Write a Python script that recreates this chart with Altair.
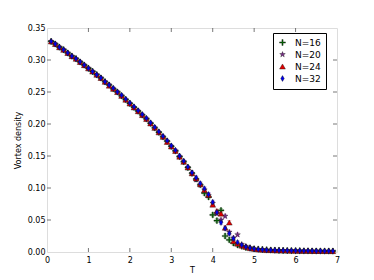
import altair as alt
import pandas as pd

T = [0.1, 0.2, 0.3, 0.4, 0.5, 0.6, 0.7, 0.8, 0.9, 1.0,
     1.1, 1.2, 1.3, 1.4, 1.5, 1.6, 1.7, 1.8, 1.9, 2.0,
     2.1, 2.2, 2.3, 2.4, 2.5, 2.6, 2.7, 2.8, 2.9, 3.0,
     3.1, 3.2, 3.3, 3.4, 3.5, 3.6, 3.7, 3.8, 3.9, 4.0,
     4.1, 4.2, 4.3, 4.4, 4.5, 4.6, 4.7, 4.8, 4.9, 5.0,
     5.1, 5.2, 5.3, 5.4, 5.5, 5.6, 5.7, 5.8, 5.9, 6.0,
     6.1, 6.2, 6.3, 6.4, 6.5, 6.6, 6.7, 6.8, 6.9]

N32 = [0.329, 0.325, 0.320, 0.316, 0.311, 0.306, 0.302, 0.297, 0.292, 0.287,
       0.282, 0.277, 0.272, 0.266, 0.261, 0.256, 0.250, 0.245, 0.239, 0.233,
       0.227, 0.221, 0.215, 0.209, 0.202, 0.195, 0.188, 0.181, 0.174, 0.166,
       0.159, 0.150, 0.142, 0.133, 0.124, 0.116, 0.107, 0.099, 0.090, 0.078,
       0.062, 0.046, 0.037, 0.029, 0.021, 0.015, 0.011, 0.008, 0.006, 0.005,
       0.004, 0.0035, 0.003, 0.003, 0.0027, 0.0025, 0.0024, 0.0022, 0.0021, 0.002,
       0.0019, 0.0018, 0.0018, 0.0017, 0.0016, 0.0016, 0.0015, 0.0015, 0.0014]

N24 = [0.329, 0.325, 0.320, 0.316, 0.311, 0.306, 0.302, 0.297, 0.292, 0.287,
       0.282, 0.277, 0.272, 0.266, 0.260, 0.255, 0.250, 0.244, 0.238, 0.232,
       0.226, 0.220, 0.214, 0.208, 0.201, 0.194, 0.187, 0.180, 0.172, 0.165,
       0.158, 0.149, 0.141, 0.132, 0.123, 0.115, 0.106, 0.097, 0.089, 0.074,
       0.064, 0.060, 0.038, 0.046, 0.017, 0.013, 0.010, 0.008, 0.006, 0.005,
       0.004, 0.0035, 0.003, 0.003, 0.0027, 0.0025, 0.0024, 0.0022, 0.0021, 0.002,
       0.0019, 0.0018, 0.0018, 0.0017, 0.0016, 0.0016, 0.0015, 0.0015, 0.0014]

N20 = [0.329, 0.325, 0.320, 0.316, 0.311, 0.306, 0.302, 0.297, 0.292, 0.287,
       0.282, 0.277, 0.272, 0.266, 0.261, 0.255, 0.250, 0.244, 0.238, 0.232,
       0.226, 0.220, 0.214, 0.208, 0.201, 0.194, 0.187, 0.180, 0.173, 0.165,
       0.158, 0.149, 0.141, 0.132, 0.123, 0.113, 0.105, 0.097, 0.088, 0.076,
       0.060, 0.050, 0.056, 0.031, 0.022, 0.027, 0.012, 0.009, 0.007, 0.005,
       0.0042, 0.0037, 0.0032, 0.003, 0.0028, 0.0026, 0.0024, 0.0022, 0.0021, 0.002,
       0.0019, 0.0018, 0.0018, 0.0017, 0.0016, 0.0016, 0.0015, 0.0015, 0.0014]

N16 = [0.329, 0.325, 0.320, 0.316, 0.311, 0.306, 0.302, 0.297, 0.292, 0.287,
       0.282, 0.277, 0.272, 0.266, 0.261, 0.255, 0.250, 0.244, 0.238, 0.232,
       0.226, 0.220, 0.214, 0.208, 0.201, 0.194, 0.187, 0.180, 0.173, 0.165,
       0.158, 0.149, 0.141, 0.132, 0.123, 0.114, 0.105, 0.092, 0.086, 0.058,
       0.049, 0.065, 0.025, 0.019, 0.014, 0.011, 0.009, 0.007, 0.006, 0.005,
       0.0045, 0.004, 0.0035, 0.003, 0.0028, 0.0026, 0.0024, 0.0022, 0.0021, 0.002,
       0.0019, 0.0018, 0.0018, 0.0017, 0.0016, 0.0016, 0.0015, 0.0015, 0.0014]

ERR = [0.002, 0.002, 0.002, 0.002, 0.002, 0.002, 0.002, 0.002, 0.002, 0.002,
       0.002, 0.002, 0.002, 0.002, 0.002, 0.002, 0.002, 0.002, 0.002, 0.002,
       0.002, 0.002, 0.002, 0.002, 0.002, 0.002, 0.002, 0.002, 0.002, 0.002,
       0.002, 0.002, 0.002, 0.002, 0.003, 0.003, 0.003, 0.003, 0.003, 0.003,
       0.003, 0.003, 0.003, 0.003, 0.003, 0.003, 0.002, 0.002, 0.001, 0.001,
       0.001, 0.001, 0.001, 0.001, 0.001, 0.001, 0.001, 0.001, 0.001, 0.001,
       0.001, 0.001, 0.001, 0.001, 0.001, 0.001, 0.001, 0.001, 0.001]

LABELS = ["N=16", "N=20", "N=24", "N=32"]
SERIES = [N16, N20, N24, N32]
X_TICKS = [0, 1, 2, 3, 4, 5, 6, 7]
Y_TICKS = [0.0, 0.05, 0.10, 0.15, 0.20, 0.25, 0.30, 0.35]

rows = []
for order, (lab, vals) in enumerate(zip(LABELS, SERIES)):
    for t, v, e in zip(T, vals, ERR):
        rows.append({"T": t, "v": v, "e": e, "N": lab, "o": order})
df = pd.DataFrame(rows)

W, H = 290, 224
STAR = "M0,-1L0.22,-0.31L0.95,-0.31L0.36,0.12L0.59,0.81L0,0.38L-0.59,0.81L-0.36,0.12L-0.95,-0.31L-0.22,-0.31Z"
THIN_DIAMOND = "M0,-1L0.6,0L0,1L-0.6,0Z"
PLUS = "M-1,-0.2H-0.2V-1H0.2V-0.2H1V0.2H0.2V1H-0.2V0.2H-1Z"

xs = alt.Scale(domain=[0, 7], nice=False)
ys = alt.Scale(domain=[0, 0.35], nice=False)

point_colors = ["#006a00", "#7a2a8a", "#e00000", "#0000e8"]
bar_colors = ["#7ccf7c", "#f07cf0", "#ff8080", "#8080ff"]

xaxis = alt.Axis(values=X_TICKS, ticks=False, domain=False, grid=False,
                 labelPadding=4, labelFontSize=8, titleFontSize=8,
                 titleFontWeight="normal", titlePadding=2, format="d",
                 labelColor="#000", titleColor="#000", labelOverlap=False, labelFlush=False,
                 labelFont="DejaVu Sans", titleFont="DejaVu Sans")
yaxis = alt.Axis(values=Y_TICKS, ticks=False, domain=False, grid=False,
                 labelPadding=2, labelFontSize=8, titleFontSize=8,
                 titleFontWeight="normal", titlePadding=5, format=".2f",
                 labelColor="#000", titleColor="#000", labelOverlap=False, labelFlush=False,
                 labelFont="DejaVu Sans", titleFont="DejaVu Sans")

base = alt.Chart(df)

bars = base.mark_errorbar(ticks={"size": 4}, thickness=0.8).encode(
    x=alt.X("T:Q", scale=xs, title="T", axis=xaxis),
    y=alt.Y("v:Q", scale=ys, title="Vortex density", axis=yaxis),
    yError="e:Q",
    color=alt.Color("N:N", scale=alt.Scale(domain=LABELS, range=bar_colors), legend=None),
)

points = base.mark_point(filled=True, size=34, stroke="#111", strokeWidth=0.4, opacity=1).encode(
    x=alt.X("T:Q", scale=xs, title="T", axis=xaxis),
    y=alt.Y("v:Q", scale=ys, title="Vortex density", axis=yaxis),
    color=alt.Color("N:N", scale=alt.Scale(domain=LABELS, range=point_colors),
                    legend=alt.Legend(title=None, orient="none", legendX=226, legendY=5,
                                      strokeColor="#000", fillColor="white", padding=5,
                                      labelFontSize=9, labelFont="DejaVu Sans",
                                      symbolSize=34, rowPadding=2, labelOffset=8,
                                      symbolStrokeColor="#111", symbolStrokeWidth=0.4)),
    shape=alt.Shape("N:N", scale=alt.Scale(domain=LABELS, range=[PLUS, STAR, "triangle-up", THIN_DIAMOND])),
    order=alt.Order("o:Q"),
)

xt = pd.DataFrame({"t": X_TICKS[1:-1]})
yt = pd.DataFrame({"t": Y_TICKS[1:-1]})
tick_col = "#555"
bt = alt.Chart(xt).mark_rule(color=tick_col, strokeWidth=0.8).encode(
    x=alt.X("t:Q", scale=xs, axis=xaxis, title="T"), y=alt.value(H), y2=alt.value(H - 4))
tt = alt.Chart(xt).mark_rule(color=tick_col, strokeWidth=0.8).encode(
    x=alt.X("t:Q", scale=xs, axis=xaxis, title="T"), y=alt.value(0), y2=alt.value(4))
lt = alt.Chart(yt).mark_rule(color=tick_col, strokeWidth=0.8).encode(
    y=alt.Y("t:Q", scale=ys, axis=yaxis, title="Vortex density"), x=alt.value(0), x2=alt.value(4))
rt = alt.Chart(yt).mark_rule(color=tick_col, strokeWidth=0.8).encode(
    y=alt.Y("t:Q", scale=ys, axis=yaxis, title="Vortex density"), x=alt.value(W), x2=alt.value(W - 4))

chart = alt.layer(bt, tt, lt, rt, bars, points).resolve_scale(color="independent", shape="independent").properties(
    width=W, height=H,
    autosize=alt.AutoSizeParams(type="none"),
    padding={"left": 39, "top": 20, "right": 20, "bottom": 27},
).configure_view(stroke="#555", strokeWidth=1.2).configure(background="white")

chart.save("out.html", embed_options={"renderer": "svg", "actions": False})
